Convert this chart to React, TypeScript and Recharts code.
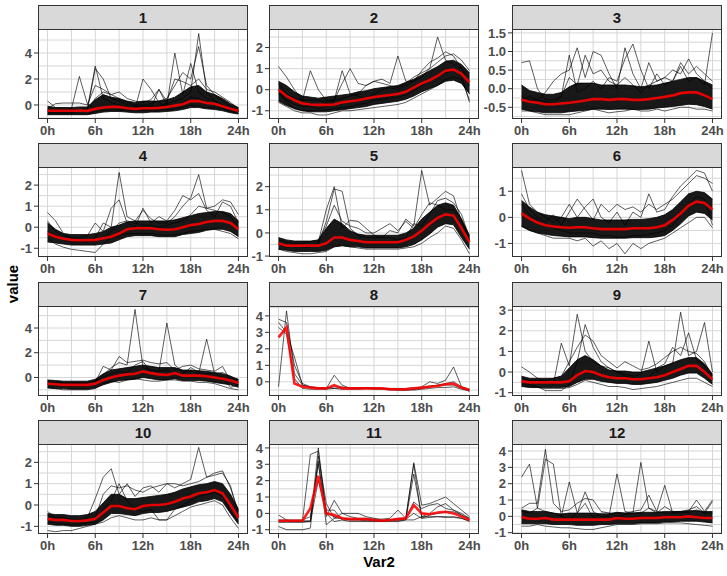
import React from 'react';
import { ComposedChart, Line, Area, XAxis, YAxis, CartesianGrid } from 'recharts';

// hourly points, 0h..24h
const hours = [0, 1, 2, 3, 4, 5, 6, 7, 8, 9, 10, 11, 12, 13, 14, 15, 16, 17, 18, 19, 20, 21, 22, 23, 24];
const xTicks = [0, 6, 12, 18, 24];

// ---- cluster 1
const mean1 = [-0.45, -0.45, -0.45, -0.45, -0.42, -0.45, -0.3, -0.2, -0.15, -0.15, -0.25, -0.3, -0.25, -0.25, -0.22, -0.15, -0.05, 0.05, 0.3, 0.3, 0.15, 0.1, -0.1, -0.3, -0.45];
const lo1 = [-0.75, -0.75, -0.75, -0.75, -0.75, -0.75, -0.65, -0.55, -0.5, -0.5, -0.55, -0.6, -0.6, -0.55, -0.55, -0.5, -0.45, -0.35, -0.2, -0.2, -0.3, -0.35, -0.45, -0.6, -0.7];
const hi1 = [-0.1, -0.2, -0.2, -0.2, -0.15, -0.15, 0.4, 0.8, 0.6, 0.5, 0.3, 0.2, 0.3, 0.3, 0.3, 0.4, 0.6, 1.0, 1.4, 1.5, 1.0, 0.8, 0.5, 0.1, -0.2];
const lines1 = [
  [0.3, -0.2, -0.2, -0.3, 2.2, 0.1, -0.3, -0.2, -0.1, -0.2, -0.3, -0.3, 2.0, 1.2, 0.2, -0.2, -0.1, 0.2, 0.6, 0.5, 0.2, 0.1, -0.2, -0.4, -0.5],
  [-0.5, -0.5, -0.5, -0.5, -0.5, -0.3, 3.0, 0.5, 0.2, 0.0, -0.2, -0.2, -0.1, -0.1, -0.1, 0.1, 0.3, 0.5, 1.0, 5.5, 1.0, 0.3, 0.0, -0.3, -0.5],
  [-0.6, -0.6, -0.6, -0.6, -0.5, -0.4, 2.8, 2.0, 0.5, 0.3, 0.0, -0.1, -0.2, -0.2, 1.2, 0.0, 4.0, 0.8, 3.2, 1.0, 0.5, 0.3, 0.0, -0.3, -0.5],
  [-0.4, -0.4, -0.4, -0.4, -0.4, -0.3, 0.5, 1.0, 0.8, 0.5, 0.2, 0.0, 0.0, 0.1, 0.3, 0.5, 1.5, 2.5, 2.0, 4.5, 1.5, 0.8, 0.3, -0.1, -0.4],
  [-0.7, -0.7, -0.7, -0.7, -0.7, -0.7, -0.5, -0.4, -0.4, -0.4, -0.4, -0.45, -0.4, -0.4, -0.4, -0.35, -0.3, -0.2, 0.0, -0.1, -0.2, -0.2, -0.3, -0.5, -0.65],
  [-0.3, 0.1, 0.15, 0.15, 0.15, 0.0, 1.5, 1.2, 0.8, 1.0, 0.5, 0.3, 0.2, 0.4, 1.2, 0.3, 2.0, 1.8, 1.5, 2.0, 1.2, 1.0, 0.6, 0.2, -0.3],
];

// ---- cluster 2
const mean2 = [0.0, -0.3, -0.5, -0.65, -0.7, -0.72, -0.72, -0.7, -0.6, -0.55, -0.5, -0.42, -0.35, -0.3, -0.25, -0.2, -0.1, 0.1, 0.3, 0.45, 0.65, 0.9, 0.95, 0.75, 0.35];
const lo2 = [-0.55, -0.75, -0.9, -1.0, -1.05, -1.05, -1.05, -1.0, -0.95, -0.9, -0.85, -0.8, -0.7, -0.65, -0.6, -0.55, -0.45, -0.3, -0.1, 0.05, 0.2, 0.4, 0.45, 0.3, -0.2];
const hi2 = [0.4, 0.2, -0.1, -0.3, -0.35, -0.4, -0.35, -0.3, -0.25, -0.2, -0.1, -0.05, 0.05, 0.1, 0.15, 0.2, 0.35, 0.5, 0.7, 0.9, 1.1, 1.35, 1.4, 1.2, 0.8];
const lines2 = [
  [1.1, 0.6, 0.0, -0.5, 0.9, 0.0, -0.5, -0.5, -0.4, -0.3, -0.2, 0.2, 0.4, 0.3, 0.2, 0.1, 0.3, 0.6, 0.8, 1.0, 1.3, 1.6, 1.7, 1.4, 0.9],
  [0.3, -0.2, -0.4, -0.5, -0.5, -0.5, -0.6, -0.5, 0.3, 1.0, 0.3, 0.2, 0.4, 0.5, 0.3, 1.6, 0.4, 0.4, 0.6, 1.0, 2.5, 1.4, 1.2, 1.0, 0.6],
  [-0.6, -0.8, -1.0, -1.1, -1.1, -1.2, -1.2, -1.1, -1.0, -1.0, -0.95, -0.9, -0.85, -0.8, -0.75, -0.7, -0.6, -0.4, -0.2, 0.0, 0.2, 0.5, 0.6, 0.5, -0.5],
  [-0.2, -0.5, -0.7, -0.8, -0.8, -0.9, -0.8, -0.5, 0.9, -0.2, -0.3, -0.4, -0.2, 0.0, 0.1, 0.0, 0.2, 0.4, 0.9, 1.3, 1.5, 1.8, 1.6, 1.0, 0.2],
  [0.0, -0.6, -0.9, -1.0, -1.0, -1.0, -0.95, -0.9, -0.85, -0.8, -0.7, -0.65, -0.5, -0.45, -0.4, -0.35, -0.25, -0.05, 0.2, 0.4, 0.6, 0.8, 0.9, 0.7, -0.6],
];

// ---- cluster 3
const mean3 = [-0.3, -0.35, -0.38, -0.42, -0.42, -0.4, -0.38, -0.35, -0.32, -0.28, -0.28, -0.3, -0.28, -0.28, -0.3, -0.3, -0.28, -0.25, -0.22, -0.18, -0.12, -0.1, -0.1, -0.18, -0.28];
const lo3 = [-0.55, -0.6, -0.62, -0.65, -0.65, -0.65, -0.62, -0.6, -0.58, -0.55, -0.55, -0.56, -0.55, -0.55, -0.56, -0.56, -0.55, -0.52, -0.5, -0.48, -0.45, -0.42, -0.43, -0.48, -0.55];
const hi3 = [0.1, -0.05, -0.1, -0.15, -0.15, -0.1, 0.05, 0.15, 0.15, 0.15, 0.1, 0.1, 0.1, 0.1, 0.08, 0.05, 0.08, 0.1, 0.15, 0.2, 0.25, 0.3, 0.3, 0.2, 0.1];
const lines3 = [
  [0.7, 0.75, 0.0, -0.3, -0.3, -0.2, 0.9, -0.1, 0.0, 0.2, 0.0, 0.3, 0.2, 0.8, 1.2, 0.5, 0.0, 0.4, 0.1, 0.2, 0.6, 0.2, 0.3, 0.1, 1.5],
  [-0.3, -0.2, -0.3, -0.1, 0.2, 0.4, 0.5, 1.1, 0.3, 1.0, 0.9, 0.4, 0.0, 1.1, 0.4, 0.0, 0.7, 0.2, 0.3, 0.5, 0.4, 0.8, 0.4, 0.2, 0.0],
  [-0.6, -0.6, -0.65, -0.7, -0.7, -0.7, -0.7, -0.65, -0.6, -0.55, -0.6, -0.65, -0.62, -0.6, -0.55, -0.6, -0.6, -0.55, -0.6, -0.55, -0.5, -0.5, -0.55, -0.55, -0.6],
  [-0.2, -0.3, -0.3, -0.35, -0.4, -0.2, 0.3, 0.1, 0.9, 0.4, 0.5, 0.2, 0.1, 0.3, 0.1, -0.1, 0.1, 0.2, 0.3, 0.2, 0.7, 0.4, 0.6, 0.4, 0.2],
];

// ---- cluster 4
const mean4 = [-0.3, -0.45, -0.55, -0.6, -0.62, -0.62, -0.6, -0.52, -0.45, -0.3, -0.1, -0.05, -0.05, -0.05, -0.1, -0.12, -0.1, 0.0, 0.1, 0.15, 0.25, 0.3, 0.3, 0.2, -0.1];
const lo4 = [-0.7, -0.75, -0.8, -0.85, -0.85, -0.85, -0.85, -0.8, -0.75, -0.6, -0.45, -0.4, -0.4, -0.4, -0.45, -0.45, -0.45, -0.35, -0.3, -0.25, -0.15, -0.1, -0.1, -0.2, -0.45];
const hi4 = [0.2, -0.1, -0.3, -0.35, -0.35, -0.35, -0.3, -0.2, 0.0, 0.1, 0.25, 0.3, 0.3, 0.3, 0.3, 0.3, 0.35, 0.45, 0.55, 0.65, 0.7, 0.75, 0.75, 0.65, 0.3];
const lines4 = [
  [0.7, 0.3, -0.3, -0.5, -0.6, -0.7, -0.5, 0.2, 0.0, 2.6, 0.5, 0.3, 0.8, 0.4, 0.2, 0.2, 0.5, 1.0, 1.4, 2.5, 0.9, 1.0, 1.3, 1.2, 0.6],
  [-0.5, -0.8, -0.95, -1.05, -1.1, -1.15, -1.2, -0.8, -0.5, -0.4, -0.3, -0.3, -0.3, -0.3, -0.35, -0.4, -0.35, -0.3, -0.2, -0.15, -0.1, -0.1, -0.2, -0.3, -0.55],
  [0.3, -0.2, -0.4, -0.5, -0.5, -0.4, 0.2, -0.2, 0.9, 1.3, 0.2, 0.0, 0.9, 0.2, 0.5, 0.3, 0.8, 1.5, 1.3, 1.6, 0.8, 0.5, 1.2, 1.0, 0.2],
  [-0.2, -0.4, -0.6, -0.7, -0.7, -0.7, -0.65, -0.5, -0.2, 0.2, 0.3, 0.2, 0.1, 0.1, 0.0, 0.1, 0.2, 0.3, 0.6, 1.0, 0.9, 0.8, 0.7, 0.5, 0.0],
];

// ---- cluster 5
const mean5 = [-0.45, -0.55, -0.55, -0.55, -0.55, -0.55, -0.45, -0.2, -0.2, -0.3, -0.35, -0.4, -0.4, -0.4, -0.4, -0.4, -0.3, -0.15, 0.1, 0.4, 0.65, 0.8, 0.75, 0.2, -0.4];
const lo5 = [-0.7, -0.75, -0.8, -0.8, -0.8, -0.8, -0.75, -0.6, -0.55, -0.6, -0.6, -0.65, -0.65, -0.65, -0.65, -0.65, -0.6, -0.5, -0.3, -0.05, 0.25, 0.4, 0.35, -0.2, -0.7];
const hi5 = [-0.2, -0.3, -0.35, -0.35, -0.35, -0.3, 0.2, 0.6, 0.4, 0.1, -0.05, -0.1, -0.1, -0.1, -0.1, -0.1, 0.0, 0.2, 0.6, 0.9, 1.2, 1.3, 1.2, 0.6, -0.1];
const lines5 = [
  [-0.5, -0.6, -0.6, -0.6, -0.6, -0.5, 0.5, 1.9, 1.8, 0.2, -0.1, -0.2, -0.2, -0.2, 0.1, 0.0, 0.6, 0.3, 2.7, 1.2, 1.5, 1.8, 1.6, 0.5, -0.3],
  [-0.4, -0.5, -0.5, -0.6, -0.6, -0.4, 1.0, 2.0, 0.2, 0.55, 0.5, 0.2, -0.1, -0.2, -0.2, -0.3, -0.2, 0.4, 0.3, 0.8, 1.4, 1.5, 1.3, 0.8, -0.2],
  [-0.7, -0.8, -0.85, -0.9, -0.9, -0.85, -0.8, -0.6, -0.55, -0.6, -0.65, -0.7, -0.7, -0.7, -0.7, -0.7, -0.65, -0.6, -0.45, -0.2, 0.0, 0.3, 0.2, -0.3, -0.9],
  [-0.3, -0.4, -0.45, -0.45, -0.4, -0.3, 0.3, 1.2, 0.5, 0.3, 0.2, 0.0, 0.0, 0.2, 0.4, 0.1, 0.5, 0.2, 0.8, 1.3, 1.2, 1.0, 1.0, 0.6, -0.3],
];

// ---- cluster 6
const mean6 = [0.15, -0.05, -0.2, -0.3, -0.35, -0.38, -0.4, -0.38, -0.38, -0.42, -0.45, -0.45, -0.45, -0.45, -0.42, -0.42, -0.42, -0.38, -0.3, -0.1, 0.15, 0.45, 0.6, 0.55, 0.3];
const lo6 = [-0.35, -0.5, -0.6, -0.65, -0.7, -0.72, -0.75, -0.75, -0.75, -0.78, -0.8, -0.8, -0.8, -0.8, -0.78, -0.78, -0.78, -0.75, -0.7, -0.5, -0.25, 0.05, 0.2, 0.15, -0.1];
const hi6 = [0.65, 0.4, 0.2, 0.1, 0.05, 0.0, -0.05, 0.0, 0.0, -0.05, -0.1, -0.1, -0.1, -0.1, -0.08, -0.08, -0.05, 0.0, 0.1, 0.3, 0.6, 0.9, 1.0, 0.95, 0.7];
const lines6 = [
  [1.8, 0.5, 0.2, 0.0, -0.2, 0.0, 0.5, 0.0, 0.4, 0.7, 0.0, -0.2, 0.2, -0.3, 0.2, 0.0, 0.9, 0.2, 0.3, 0.8, 1.2, 1.5, 1.8, 1.7, 1.0],
  [0.9, 0.3, 0.0, -0.2, 0.1, -0.3, 0.2, 0.7, 0.3, -0.1, 0.5, 0.2, 0.5, 0.3, 0.4, 0.2, 0.5, 0.3, 0.5, 0.7, 1.0, 1.3, 1.6, 1.5, 1.3],
  [-0.3, -0.5, -0.6, -0.7, -0.8, -0.8, -0.8, -0.9, -0.8, -1.1, -0.9, -1.2, -1.0, -1.4, -1.0, -1.2, -1.0, -0.9, -0.8, -0.6, -0.4, -0.2, 0.0, 0.0, -0.4],
  [0.5, 0.1, -0.1, -0.3, -0.4, -0.5, -0.6, -0.6, -0.6, -0.6, -0.7, -0.7, -0.75, -0.75, -0.7, -0.7, -0.65, -0.6, -0.5, -0.3, 0.1, 0.5, 0.8, 0.7, -0.3],
];

// ---- cluster 7
const mean7 = [-0.5, -0.55, -0.6, -0.6, -0.6, -0.6, -0.5, -0.2, 0.0, 0.15, 0.25, 0.3, 0.5, 0.35, 0.25, 0.2, 0.35, 0.15, 0.15, 0.15, 0.1, 0.0, -0.1, -0.25, -0.45];
const lo7 = [-0.85, -0.9, -0.9, -0.95, -0.95, -0.95, -0.85, -0.6, -0.4, -0.25, -0.2, -0.15, 0.0, -0.1, -0.2, -0.2, -0.1, -0.25, -0.25, -0.25, -0.3, -0.4, -0.5, -0.6, -0.8];
const hi7 = [-0.2, -0.25, -0.3, -0.3, -0.3, -0.3, -0.15, 0.3, 0.6, 0.7, 0.8, 0.9, 1.0, 0.9, 0.8, 0.8, 0.8, 0.6, 0.6, 0.55, 0.5, 0.4, 0.3, 0.1, -0.15];
const lines7 = [
  [-0.3, -0.4, -0.4, -0.4, -0.4, -0.4, -0.3, 0.2, 0.8, 1.2, 1.0, 5.5, 0.8, 0.6, 0.5, 4.4, 1.0, 0.5, 0.5, 0.3, 3.1, 0.3, 0.4, 0.1, -0.4],
  [-0.8, -0.9, -1.0, -1.0, -1.0, -1.0, -0.9, -0.5, -0.3, -0.4, -0.2, -0.1, -0.2, -0.3, -0.3, -0.2, -0.2, -0.3, -0.3, -0.4, -0.4, -0.5, -0.7, -0.9, -1.0],
  [-0.6, -0.6, -0.7, -0.7, -0.7, -0.7, -0.4, 0.9, 0.6, 1.7, 1.2, 1.3, 1.4, 1.2, 1.1, 1.2, 0.6, 0.9, 1.0, 0.7, 0.6, 0.5, 0.9, -0.3, -0.6],
  [-0.4, -0.5, -0.5, -0.5, -0.5, -0.5, -0.3, 0.0, 0.3, 0.5, 0.4, 1.0, 1.3, 0.4, 0.5, 0.6, 0.3, 0.3, 0.8, 0.4, 0.3, 0.3, 0.0, -0.8, -0.6],
];

// ---- cluster 8 (few members, no dense band)
const mean8 = [2.7, 3.3, -0.1, -0.3, -0.35, -0.4, -0.4, -0.2, -0.4, -0.4, -0.4, -0.4, -0.4, -0.4, -0.45, -0.45, -0.45, -0.4, -0.35, -0.3, -0.25, -0.15, -0.1, -0.35, -0.5];
const lines8 = [
  [-0.3, 4.3, 0.5, -0.2, -0.35, -0.4, -0.4, 0.4, -0.2, -0.4, -0.4, -0.4, -0.4, -0.4, -0.45, -0.5, -0.5, -0.45, -0.3, 0.0, -0.1, 0.1, 0.9, -0.3, -0.6],
  [3.8, 3.6, 1.0, -0.1, -0.3, -0.4, -0.4, -0.3, -0.3, -0.4, -0.4, -0.35, -0.4, -0.4, -0.4, -0.45, -0.45, -0.45, -0.4, -0.3, -0.2, -0.2, -0.2, -0.4, -0.5],
  [3.3, 2.9, 0.2, -0.4, -0.45, -0.45, -0.45, -0.4, -0.45, -0.45, -0.45, -0.4, -0.45, -0.45, -0.5, -0.5, -0.5, -0.5, -0.45, -0.4, -0.35, -0.35, -0.3, -0.45, -0.55],
  [3.6, 3.0, 1.5, -0.2, -0.3, -0.35, -0.35, -0.4, -0.35, -0.35, -0.35, -0.35, -0.35, -0.4, -0.4, -0.4, -0.4, -0.35, -0.35, -0.25, -0.2, -0.1, 0.0, -0.3, -0.45],
];

// ---- cluster 9
const mean9 = [-0.45, -0.5, -0.5, -0.5, -0.5, -0.5, -0.45, -0.15, 0.05, 0.0, -0.15, -0.25, -0.3, -0.3, -0.35, -0.35, -0.3, -0.25, -0.15, 0.0, 0.15, 0.3, 0.3, 0.0, -0.35];
const lo9 = [-0.7, -0.75, -0.75, -0.75, -0.75, -0.75, -0.7, -0.5, -0.35, -0.35, -0.45, -0.5, -0.55, -0.55, -0.6, -0.6, -0.55, -0.5, -0.4, -0.3, -0.15, -0.05, -0.05, -0.3, -0.6];
const hi9 = [-0.2, -0.3, -0.3, -0.3, -0.3, -0.2, 0.2, 0.6, 0.8, 0.6, 0.3, 0.1, 0.05, 0.05, 0.0, 0.0, 0.1, 0.2, 0.3, 0.45, 0.6, 0.7, 0.7, 0.4, -0.1];
const lines9 = [
  [0.25, 0.0, -0.3, -0.5, -0.6, 1.4, 0.3, 2.8, 1.0, 0.5, 0.3, 0.2, 0.0, -0.1, -0.2, -0.1, 1.5, 0.0, 0.3, 0.4, 2.9, 0.8, 1.0, 2.4, 0.0],
  [-0.5, -0.6, -0.7, -0.9, -0.9, -0.9, -0.6, 0.5, 2.3, 1.2, 0.5, 0.2, 0.0, -0.2, -0.3, -0.4, -0.3, 0.2, 0.4, 1.2, 0.8, 1.9, 0.6, 0.3, -0.4],
  [-0.6, -0.7, -0.75, -0.8, -0.8, -0.8, -0.75, -0.6, -0.4, -0.5, -0.6, -0.7, -0.7, -0.75, -0.85, -0.8, -0.75, -0.7, -0.6, -0.5, -0.4, -0.3, -0.3, -0.5, -0.7],
  [-0.3, -0.4, -0.4, -0.4, -0.3, -0.2, 0.5, 1.2, 1.8, 1.5, 0.8, 0.5, 0.2, 0.5, 0.3, 0.1, 0.2, 0.4, 0.7, 1.0, 1.2, 1.0, 0.9, 0.5, -0.2],
];

// ---- cluster 10
const mean10 = [-0.65, -0.7, -0.7, -0.75, -0.75, -0.72, -0.65, -0.35, -0.05, -0.05, -0.15, -0.2, -0.05, 0.0, 0.0, 0.05, 0.15, 0.3, 0.4, 0.55, 0.6, 0.7, 0.55, 0.0, -0.6];
const lo10 = [-0.9, -0.95, -0.95, -1.0, -1.0, -0.95, -0.9, -0.7, -0.4, -0.4, -0.45, -0.5, -0.4, -0.35, -0.35, -0.3, -0.2, -0.1, 0.0, 0.15, 0.2, 0.3, 0.15, -0.4, -0.9];
const hi10 = [-0.4, -0.45, -0.45, -0.5, -0.5, -0.45, -0.3, 0.1, 0.5, 0.5, 0.3, 0.3, 0.35, 0.4, 0.45, 0.5, 0.6, 0.75, 0.85, 0.95, 1.0, 1.1, 1.0, 0.5, -0.2];
const lines10 = [
  [-0.3, -0.6, -0.6, -0.7, -0.7, -0.6, 0.3, 1.3, 1.7, 0.5, 1.0, 0.4, 0.8, 0.9, 0.6, 1.0, 0.8, 1.0, 1.2, 2.7, 1.3, 1.5, 1.6, 0.8, -0.3],
  [-1.2, -1.25, -1.2, -1.2, -1.1, -1.0, -0.9, -0.8, -0.6, -0.5, -0.6, -0.7, -0.7, -0.6, -0.7, -0.7, -0.5, -0.3, -0.1, 0.0, 0.1, 0.2, 0.0, -0.6, -1.1],
  [-0.5, -0.6, -0.6, -0.7, -0.7, -0.7, -0.6, 0.5, 0.9, 0.8, 0.9, 0.7, 0.6, 0.8, 0.9, 1.0, 1.0, 0.9, 1.0, 1.1, 1.3, 1.4, 1.5, 0.9, -0.5],
  [-0.8, -0.85, -0.9, -0.9, -0.9, -0.85, -0.8, -0.2, 0.2, 1.0, 0.2, -0.2, -0.3, -0.2, -0.7, -0.7, -0.2, 0.0, 0.2, 0.4, 0.5, 0.6, 0.4, -0.3, -0.8],
];

// ---- cluster 11 (few members, no dense band)
const mean11 = [-0.45, -0.45, -0.45, -0.45, 0.3, 2.3, 0.0, -0.1, -0.3, -0.35, -0.35, -0.35, -0.4, -0.45, -0.4, -0.35, -0.3, 0.5, 0.0, -0.05, 0.05, 0.1, 0.0, -0.2, -0.4];
const lines11 = [
  [-0.1, -0.4, -0.5, -0.5, 3.6, 3.8, -0.2, 0.8, 0.0, 0.0, 0.0, -0.2, -0.3, -0.4, -0.4, -0.3, -0.3, 3.0, -0.3, -0.1, 0.0, 0.1, 0.1, -0.1, -0.3],
  [-0.8, -1.0, -1.0, -1.0, -0.9, 3.5, 0.6, -0.3, 0.0, -0.2, -0.3, -0.3, -0.35, -0.35, -0.3, 0.2, -0.3, 3.1, 0.5, 0.6, 0.8, 1.0, 0.6, 0.2, -0.2],
  [-0.5, -0.5, -0.5, -0.5, -0.5, 4.0, 0.0, -0.5, -0.4, -0.4, -0.4, -0.4, -0.45, -0.45, -0.4, -0.4, -0.3, 0.7, 0.3, 0.5, 0.6, 0.3, 0.2, -0.1, -0.4],
  [-0.45, -0.45, -0.45, -0.45, -0.45, 3.2, -0.7, -0.3, -0.3, -0.4, -0.4, -0.45, -0.45, -0.5, -0.45, -0.45, -0.4, -0.4, -0.2, -0.2, -0.2, -0.25, -0.2, -0.3, -0.5],
  [-0.55, -0.55, -0.55, -0.55, -0.5, 2.0, 0.2, 0.2, -0.4, -0.5, -0.5, -0.5, -0.5, -0.5, -0.5, -0.5, -0.4, 2.4, -0.2, 0.0, 0.4, 0.6, 0.2, 0.0, -0.3],
  [-0.4, -0.4, -0.4, -0.4, -0.2, 3.0, 0.0, -0.2, -0.3, -0.35, -0.35, -0.35, -0.4, -0.45, -0.4, -0.35, -0.35, 0.0, -0.3, -0.25, -0.2, -0.2, -0.25, -0.3, -0.45],
];

// ---- cluster 12
const mean12 = [-0.05, -0.15, -0.15, -0.1, -0.2, -0.2, -0.2, -0.2, -0.2, -0.2, -0.2, -0.2, -0.1, -0.15, -0.15, -0.1, -0.1, -0.1, -0.05, -0.05, -0.05, 0.0, -0.05, -0.1, -0.1];
const lo12 = [-0.45, -0.45, -0.45, -0.45, -0.5, -0.5, -0.5, -0.55, -0.55, -0.55, -0.5, -0.5, -0.45, -0.45, -0.45, -0.4, -0.4, -0.4, -0.35, -0.35, -0.3, -0.3, -0.3, -0.35, -0.4];
const hi12 = [0.4, 0.3, 0.3, 0.3, 0.2, 0.15, 0.2, 0.2, 0.2, 0.2, 0.15, 0.15, 0.25, 0.2, 0.2, 0.25, 0.25, 0.25, 0.3, 0.3, 0.3, 0.35, 0.35, 0.3, 0.3];
const lines12 = [
  [2.4, 3.2, 0.5, 0.3, 0.2, 0.0, 2.1, 0.2, 1.5, 0.3, 0.0, 0.0, 2.6, 0.3, 0.2, 3.3, 0.5, 0.3, 1.9, 0.2, 0.2, 0.3, 1.0, 0.3, 1.0],
  [0.5, 0.8, 0.8, 4.1, 0.8, 0.3, 0.4, 0.8, 1.1, 1.0, 0.3, 0.2, 0.2, 0.2, 0.3, 0.4, 1.3, 0.3, 0.2, 0.2, 0.3, 0.4, 0.6, 0.2, 0.9],
  [0.3, 0.2, 0.5, 3.5, 3.2, 0.0, -0.2, 0.2, 0.8, -0.1, 0.2, 0.2, 0.0, 0.1, 0.2, 0.2, 0.5, 0.2, 0.6, 0.3, 0.3, 0.2, 0.4, 0.2, 0.2],
  [-0.6, -0.6, -0.5, -0.6, -0.65, -0.7, -0.7, -0.75, -0.8, -0.8, -0.7, -0.6, -0.5, -0.5, -0.5, -0.45, -0.45, -0.45, -0.4, -0.4, -0.4, -0.45, -0.5, -0.55, -0.6],
];

const panels = [
  { title: '1', mean: mean1, lo: lo1, hi: hi1, lines: lines1, domain: [-1.08, 5.85], ticks: [0, 2, 4] },
  { title: '2', mean: mean2, lo: lo2, hi: hi2, lines: lines2, domain: [-1.39, 2.88], ticks: [-1, 0, 1, 2] },
  { title: '3', mean: mean3, lo: lo3, hi: hi3, lines: lines3, domain: [-0.815, 1.605], ticks: [-0.5, 0, 0.5, 1, 1.5], digits: 1 },
  { title: '4', mean: mean4, lo: lo4, hi: hi4, lines: lines4, domain: [-1.415, 2.86], ticks: [-1, 0, 1, 2] },
  { title: '5', mean: mean5, lo: lo5, hi: hi5, lines: lines5, domain: [-1.04, 2.85], ticks: [-1, 0, 1, 2] },
  { title: '6', mean: mean6, lo: lo6, hi: hi6, lines: lines6, domain: [-1.52, 1.93], ticks: [-1, 0, 1] },
  { title: '7', mean: mean7, lo: lo7, hi: hi7, lines: lines7, domain: [-1.5, 5.78], ticks: [0, 2, 4] },
  { title: '8', mean: mean8, lo: null, hi: null, lines: lines8, domain: [-0.86, 4.6], ticks: [0, 1, 2, 3, 4] },
  { title: '9', mean: mean9, lo: lo9, hi: hi9, lines: lines9, domain: [-1.16, 3.2], ticks: [-1, 0, 1, 2, 3] },
  { title: '10', mean: mean10, lo: lo10, hi: hi10, lines: lines10, domain: [-1.36, 2.86], ticks: [-1, 0, 1, 2] },
  { title: '11', mean: mean11, lo: null, hi: null, lines: lines11, domain: [-1.26, 4.24], ticks: [-1, 0, 1, 2, 3, 4] },
  { title: '12', mean: mean12, lo: lo12, hi: hi12, lines: lines12, domain: [-1.08, 4.43], ticks: [-1, 0, 1, 2, 3, 4] },
];

const colLeft = [38, 269, 512];
const rowTop = [5, 143, 282, 420];
const W = 210;
const STRIP = 24;
const PH = 90;
const YW = 40;
const XH = 26;
const RM = 14; // room for the "24h" label past the panel edge
const TM = 8; // room for the top y label
const FONT = '"Liberation Sans", Arial, sans-serif';

const minorOf = (ticks: number[], domain: number[]) => {
  const step = ticks[1] - ticks[0];
  const out = [ticks[0] - step / 2, ...ticks.map((t) => t + step / 2)];
  return out.filter((v) => v > domain[0] && v < domain[1]);
};

const Panel = ({ p, left, top }: any) => {
  const data = hours.map((h, i) => {
    const row: any = { h, mean: p.mean[i] };
    if (p.lo) row.band = [p.lo[i], p.hi[i]];
    p.lines.forEach((l: number[], k: number) => (row['l' + k] = l[i]));
    return row;
  });
  const gridY = [...p.ticks, ...minorOf(p.ticks, p.domain)];
  const gridX = [0, 3, 6, 9, 12, 15, 18, 21, 24];
  return (
    <div style={{ position: 'absolute', left, top, width: W, height: STRIP + PH }}>
      <div style={{ position: 'absolute', left: -YW, top: STRIP - TM }}>
        <ComposedChart width={W + YW + RM} height={PH + XH + TM} data={data} margin={{ top: TM, right: RM, bottom: 0, left: 0 }}>
          <CartesianGrid horizontalValues={gridY} verticalValues={gridX} stroke="#d6d6d6" strokeWidth={1} />
          <XAxis
            dataKey="h" type="number" domain={[-1.2, 25.2]} ticks={xTicks} allowDataOverflow interval={0}
            tickFormatter={(v) => `${v}h`} height={XH} axisLine={false} tickSize={4} tickMargin={3}
            stroke="#333" tick={{ fill: '#4d4d4d', fontSize: 13, fontWeight: 'bold' }}
          />
          <YAxis
            type="number" domain={p.domain} ticks={p.ticks} allowDataOverflow width={YW} interval={0}
            tickFormatter={(v) => (p.digits ? Number(v).toFixed(p.digits) : String(v))}
            axisLine={false} tickSize={4} tickMargin={2}
            stroke="#333" tick={{ fill: '#4d4d4d', fontSize: 13, fontWeight: 'bold' }}
          />
          {p.lo && (
            <Area type="linear" dataKey="band" stroke="#000" strokeWidth={0.8} fill="#000" fillOpacity={0.9} isAnimationActive={false} />
          )}
          {p.lines.map((_: number[], k: number) => (
            <Line key={k} type="linear" dataKey={'l' + k} stroke="#000" strokeOpacity={0.85} strokeWidth={0.75} dot={false} isAnimationActive={false} />
          ))}
          <Line type="linear" dataKey="mean" stroke="#ff0000" strokeOpacity={0.88} strokeWidth={2.6} dot={false} isAnimationActive={false} />
        </ComposedChart>
      </div>
      <div
        style={{
          position: 'absolute', left: 0, top: 0, width: W, height: STRIP + 1, boxSizing: 'border-box',
          background: '#d9d9d9', border: '1px solid #333', display: 'flex', alignItems: 'center',
          justifyContent: 'center', fontWeight: 'bold', fontSize: 15, color: '#1a1a1a',
        }}
      >
        {p.title}
      </div>
      <div
        style={{
          position: 'absolute', left: 0, top: STRIP, width: W, height: PH, boxSizing: 'border-box',
          border: '1px solid #333', pointerEvents: 'none',
        }}
      />
    </div>
  );
};

export default function App() {
  return (
    <div style={{ position: 'absolute', left: 0, top: 0, width: 727, height: 576, background: '#fff', fontFamily: FONT }}>
      {panels.map((p, i) => (
        <Panel key={p.title} p={p} left={colLeft[i % 3]} top={rowTop[Math.floor(i / 3)]} />
      ))}
      <div
        style={{
          position: 'absolute', left: 12, top: 284, transform: 'translate(-50%, -50%) rotate(-90deg)',
          fontWeight: 'bold', fontSize: 15, color: '#000', whiteSpace: 'nowrap',
        }}
      >
        value
      </div>
      <div
        style={{
          position: 'absolute', left: 379, top: 561, transform: 'translate(-50%, -50%)',
          fontWeight: 'bold', fontSize: 15, color: '#000',
        }}
      >
        Var2
      </div>
    </div>
  );
}
